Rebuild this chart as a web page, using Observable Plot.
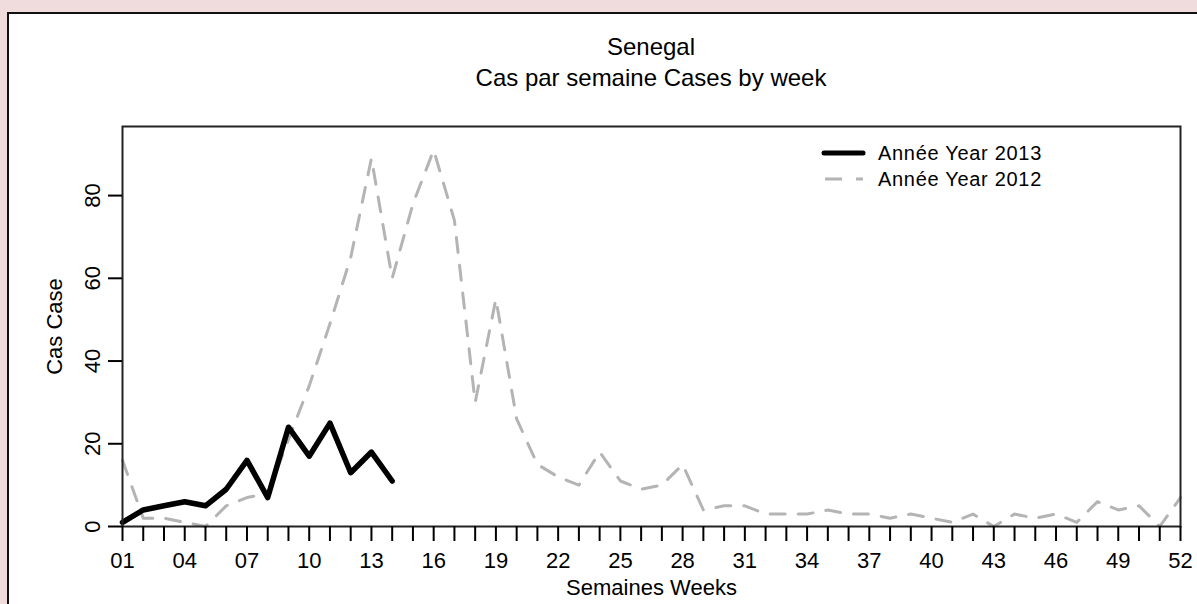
<!DOCTYPE html>
<html>
<head>
<meta charset="utf-8">
<script src="https://cdn.jsdelivr.net/npm/d3@7"></script>
<script src="https://cdn.jsdelivr.net/npm/@observablehq/plot@0.6"></script>
<style>
  html, body { margin: 0; padding: 0; }
  body { width: 1197px; height: 604px; background: #f0dcdc; position: relative; overflow: hidden;
         font-family: "Liberation Sans", Arial, Helvetica, sans-serif; }
  #panel { position: absolute; left: 7px; top: 12px; width: 1210px; height: 620px; background: #fff;
           border-left: 2px solid #111; border-top: 2px solid #111; }
  #chart { position: absolute; left: 0; top: 0; }
  .title { position: absolute; left: 0; width: 1302px; text-align: center; color: #000; white-space: nowrap;
           font-size: 24px; line-height: normal; }
  #legend { position: absolute; left: 815px; top: 138px; }
</style>
</head>
<body>
<div id="panel"></div>
<div class="title" id="t1" style="top:33px;">Senegal</div>
<div class="title" id="t2" style="top:64px;">Cas par semaine Cases by week</div>
<div id="chart"></div>
<svg id="legend" width="280" height="60"></svg>
<script>
// ---- data ----
const weeks2012 = [1,2,3,4,5,6,7,8,9,10,11,12,13,14,15,16,17,18,19,20,21,22,23,24,25,26,
                   27,28,29,30,31,32,33,34,35,36,37,38,39,40,41,42,43,44,45,46,47,48,49,50,51,52];
const cases2012 = [16,2,2,1,0,5,7,8,21,34,49,65,89,60,78,91,74,30,55,26,15,12,10,18,11,9,
                   10,15,4,5,5,3,3,3,4,3,3,2,3,2,1,3,0,3,2,3,1,6,4,5,0,7];
const weeks2013 = [1,2,3,4,5,6,7,8,9,10,11,12,13,14];
const cases2013 = [1,4,5,6,5,9,16,7,24,17,25,13,18,11];
const xLabelWeeks = [1,4,7,10,13,16,19,22,25,28,31,34,37,40,43,46,49,52];
const xTickLabels = ["01","04","07","10","13","16","19","22","25","28","31","34","37","40","43","46","49","52"];
const yTicks = [0,20,40,60,80];
const seriesNames = ["Année Year 2013", "Année Year 2012"];

const data2012 = weeks2012.map((w, i) => ({week: w, cases: cases2012[i]}));
const data2013 = weeks2013.map((w, i) => ({week: w, cases: cases2013[i]}));

const gray = "#b4b4b4";
const chart = Plot.plot({
  width: 1197,
  height: 604,
  marginLeft: 122,
  marginRight: 17,
  marginTop: 126,
  marginBottom: 78,
  x: {domain: [1, 52]},
  y: {domain: [0, 96.7]},
  style: {fontFamily: "'Liberation Sans', Arial, Helvetica, sans-serif", fontSize: "22px", color: "#000", background: "transparent", overflow: "visible"},
  marks: [
    Plot.line(data2012, {x: "week", y: "cases", stroke: gray, strokeWidth: 3, strokeDasharray: "15,13", strokeLinejoin: "round"}),
    Plot.line(data2013, {x: "week", y: "cases", stroke: "#000", strokeWidth: 5.5, strokeLinejoin: "round"}),
    Plot.frame({stroke: "#222", strokeWidth: 2}),
    // x ticks (every week) and labels (every 3 weeks)
    Plot.axisX({ticks: weeks2012, tickSize: 15, strokeWidth: 2, tickFormat: () => "", label: null}),
    Plot.axisX({ticks: xLabelWeeks, tickSize: 0, tickPadding: 26, fontSize: 22,
                tickFormat: d => xTickLabels[xLabelWeeks.indexOf(d)],
                label: "Semaines Weeks", labelAnchor: "center", labelOffset: 68, labelArrow: false}),
    // y ticks and rotated labels
    Plot.axisY({ticks: yTicks, tickSize: 14, strokeWidth: 2, tickFormat: () => "", label: null}),
    Plot.axisY({ticks: yTicks, tickSize: 0, rotate: -90, textAnchor: "middle",
                tickPadding: 30, fontSize: 22, tickFormat: d => String(d),
                label: "Cas Case", labelAnchor: "center", labelOffset: 76, labelArrow: false})
  ]
});
document.getElementById("chart").appendChild(chart);

// ---- legend ----
const lg = d3.select("#legend");
lg.append("line").attr("x1", 9).attr("x2", 48).attr("y1", 15).attr("y2", 15)
  .attr("stroke", "#000").attr("stroke-width", 5).attr("stroke-linecap", "round");
lg.append("line").attr("x1", 10).attr("x2", 48).attr("y1", 41).attr("y2", 41)
  .attr("stroke", gray).attr("stroke-width", 3).attr("stroke-dasharray", "17,14");
lg.selectAll("text.l").data(seriesNames).join("text")
  .attr("x", 63).attr("y", (d, i) => 22 + i * 26)
  .attr("font-size", 20).attr("fill", "#000").attr("letter-spacing", "0.7px")
  .attr("font-family", "'Liberation Sans', Arial, sans-serif")
  .text(d => d);
</script>
</body>
</html>
